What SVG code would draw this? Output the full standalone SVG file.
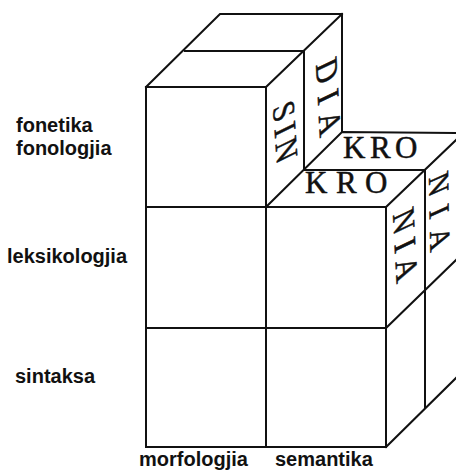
<svg xmlns="http://www.w3.org/2000/svg" width="456" height="470" viewBox="0 0 456 470">
<style>
.ln{fill:none;stroke:#111;stroke-width:2;stroke-linecap:square}
.lab{font-family:"Liberation Sans",Arial,sans-serif;font-weight:bold;font-size:20px;fill:#111}
.ser{font-family:"Liberation Serif","Times New Roman",serif;font-size:31px;fill:#111;stroke:#111;stroke-width:0.5}
</style>
<rect width="456" height="470" fill="#fff"/>
<g id="cube-lines">
<path class="ln" d="M146,87H266M146,87V447M266,87V447M386,207V447M146,207H386M146,328H386M146,447H386"/>
<path class="ln" d="M146,87L220,14H342M185,51H304M266,87L342,14M304,51V170M342,14V132"/>
<path class="ln" d="M266,207L342,132L456,133M304,170H425M386,207L456,140M425,170V408M386,328L456,260M386,447L456,378"/>
</g>
<g id="face-texts">
<text class="ser" transform="translate(273,108) skewY(-23) rotate(86)" letter-spacing="5">SIN</text>
<text class="ser" transform="translate(316,65) skewY(-23) rotate(87)" letter-spacing="10">DIA</text>
<text class="ser" x="343" y="158" letter-spacing="4.5">KRO</text>
<text class="ser" x="305" y="193" letter-spacing="8.5">KRO</text>
<text class="ser" transform="translate(393,215) skewY(-23) rotate(87)" letter-spacing="8">NIA</text>
<text class="ser" style="font-size:29px" transform="translate(429,178) skewY(-23) rotate(89)" letter-spacing="12">NIA</text>
</g>
<g id="labels">
<text class="lab" x="16" y="132">fonetika</text>
<text class="lab" x="16" y="155">fonologjia</text>
<text class="lab" x="7" y="263">leksikologjia</text>
<text class="lab" x="15" y="383">sintaksa</text>
<text class="lab" x="139" y="466">morfologjia</text>
<text class="lab" x="275" y="466">semantika</text>
</g>
</svg>
